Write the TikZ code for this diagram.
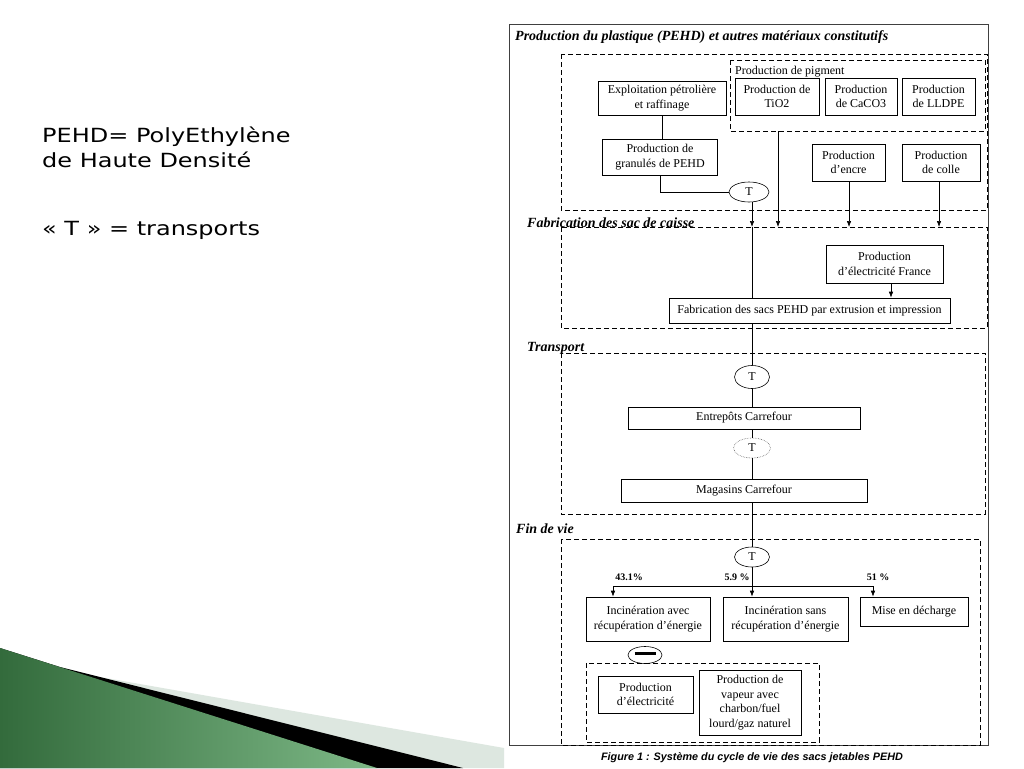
\documentclass[tikz,border=0pt]{standalone}
\usepackage{fontspec}
\setmainfont{Liberation Serif}
\newfontfamily\capf{Liberation Sans}
\newfontfamily\leftf[FakeStretch=1.23]{DejaVu Sans}
\usetikzlibrary{arrows.meta,shapes.geometric}
\definecolor{gdark}{HTML}{336B3C}
\definecolor{glight}{HTML}{7DB886}
\definecolor{gpale}{HTML}{DDE7E0}
\begin{document}
\begin{tikzpicture}[x=1pt,y=-1pt,
  box/.style={draw,line width=0.6pt,inner sep=0pt,align=center,font=\fontsize{12}{14.5}\selectfont},
  tell/.style={draw,ellipse,line width=0.6pt,inner sep=0pt,font=\fontsize{12}{13}\selectfont},
  dbox/.style={draw,line width=0.6pt,dash pattern=on 5pt off 3pt},
  sect/.style={anchor=west,inner sep=0pt,font=\fontsize{14}{16}\selectfont\bfseries\itshape},
  pct/.style={inner sep=0pt,font=\fontsize{10}{11}\selectfont\bfseries},
  conn/.style={line width=0.6pt},
  arr/.style={line width=0.6pt,-{Latex[length=6pt,width=4.5pt]}},
  lefttxt/.style={anchor=west,inner sep=0pt,font=\leftf\fontsize{19.5}{23}\selectfont}]
\useasboundingbox (0,0) rectangle (1024,768);
\fill[white] (0,0) rectangle (1024,768);
% decorative swoosh
\fill[gpale] (60,667) -- (100,677) -- (504,748) -- (504,768) -- (0,768) -- cycle;
\fill[black] (0,648) -- (60,667) -- (463,768) -- (0,768) -- cycle;
\shade[shading angle=-60, left color=gdark, right color=glight] (0,648) -- (377,768) -- (0,768) -- cycle;
% left text
\node[lefttxt] (l1) at (42,137) {PEHD= PolyEthylène};
\node[lefttxt] (l2) at (42,160) {de Haute Densité};
\node[lefttxt] (l3) at (42,230) {« T » = transports};
% outer frame
\draw[line width=0.8pt,black!75] (509,24) rectangle (988,745);
% section 1
\node[sect] (s1) at (515,37) {Production du plastique (PEHD) et autres matériaux constitutifs};
\draw[dbox] (561,54) rectangle (987,210);
\draw[dbox] (730,60) rectangle (985,131);
\node[anchor=west,inner sep=0pt,font=\fontsize{12}{13}\selectfont] (pig) at (735,72) {Production de pigment};
\node[box,minimum width=128,minimum height=34] (exp) at (662,98) {Exploitation pétrolière\\et raffinage};
\node[box,minimum width=84,minimum height=37] (tio) at (777,96.5) {Production de\\TiO2};
\node[box,minimum width=72,minimum height=37] (cac) at (861,96.5) {Production\\de CaCO3};
\node[box,minimum width=73,minimum height=37] (lld) at (938.5,96.5) {Production\\de LLDPE};
\node[box,minimum width=115,minimum height=36] (gran) at (660,157) {Production de\\granulés de PEHD};
\node[box,minimum width=73,minimum height=37] (enc) at (848.5,162.5) {Production\\d'encre};
\node[box,minimum width=78,minimum height=37] (col) at (941,162.5) {Production\\de colle};
\node[tell,minimum width=40,minimum height=20] (t1) at (749,192) {T};
\coordinate (pigb) at (778,131);
\coordinate (m1) at (752,227);
\coordinate (a2) at (778,227);
\coordinate (a3) at (849,227);
\coordinate (a4) at (939,227);
\draw[conn] (exp.south) -- (exp.south |- gran.north);
\draw[conn] (gran.south) |- (t1.west);
\draw[arr] (t1.south -| m1) -- (m1);
\draw[arr] (pigb) -- (a2);
\draw[arr] (enc.south -| a3) -- (a3);
\draw[arr] (col.south -| a4) -- (a4);
% section 2
\draw[dbox] (561,227) rectangle (987,328);
\node[sect] (s2) at (527,223) {Fabrication des sac de caisse};
\node[box,minimum width=117,minimum height=38] (efr) at (884.5,264) {Production\\d'électricité France};
\node[box,minimum width=281,minimum height=25] (fab) at (809.5,310.5) {Fabrication des sacs PEHD par extrusion et impression};
\draw[conn] (m1) -- (m1 |- fab.north);
\draw[arr] ([xshift=6.5pt]efr.south) -- ([xshift=6.5pt]efr.south |- fab.north);
% section 3
\draw[dbox] (561,353) rectangle (985,514);
\node[sect] (s3) at (527,348) {Transport};
\node[tell,minimum width=35,minimum height=23] (t2) at (752,377) {T};
\node[box,minimum width=232,minimum height=22] (ent) at (744,418) {Entrepôts Carrefour};
\node[tell,densely dotted,draw=black!60,minimum width=37,minimum height=20] (t3) at (752,448) {T};
\node[box,minimum width=246,minimum height=23] (mag) at (744,490.5) {Magasins Carrefour};
\draw[conn] (fab.south -| t2) -- (t2.north);
\draw[conn] (t2.south) -- (t2.south |- ent.north);
\draw[conn] (t2.south |- ent.south) -- (t3.north);
\draw[conn] (t3.south) -- (t3.south |- mag.north);
% section 4
\draw[dbox] (561,539) rectangle (980,745);
\node[sect] (s4) at (516,529) {Fin de vie};
\node[tell,minimum width=35,minimum height=20] (t4) at (752,557) {T};
\draw[conn] (t3.south |- mag.south) -- (t4.north);
\node[box,minimum width=124,minimum height=44] (inc1) at (648,619) {Incinération avec\\récupération d'énergie};
\node[box,minimum width=125,minimum height=44] (inc2) at (785.5,619) {Incinération sans\\récupération d'énergie};
\node[box,minimum width=108,minimum height=29] (mise) at (914,611.5) {Mise en décharge};
\coordinate (br) at (752,586);
\coordinate (bl) at (613,586);
\coordinate (brr) at (873,586);
\draw[conn] (t4.south) -- (br);
\draw[conn] (bl) -- (brr);
\draw[arr] (bl) -- (bl |- inc1.north);
\draw[arr] (br) -- (br |- inc2.north);
\draw[arr] (brr) -- (brr |- mise.north);
\node[pct] (p1) at (629,577) {43.1\%};
\node[pct] (p2) at (737,577) {5.9 \%};
\node[pct] (p3) at (878,577) {51 \%};
\node[tell,minimum width=34,minimum height=17] (minus) at (645,655) {\rule[0.5ex]{21pt}{3pt}};
\draw[dbox] (586,663) rectangle (819,742);
\node[box,minimum width=95,minimum height=37] (elec) at (645.5,694.5) {Production\\d'électricité};
\node[box,minimum width=102,minimum height=65] (vap) at (750,702.5) {Production de\\vapeur avec\\charbon/fuel\\lourd/gaz naturel};
% caption
\node[inner sep=0pt,font=\capf\fontsize{10.8}{12}\selectfont\bfseries\itshape] (cap) at (752,758) {Figure 1 : Système du cycle de vie des sacs jetables PEHD};
\end{tikzpicture}
\end{document}
